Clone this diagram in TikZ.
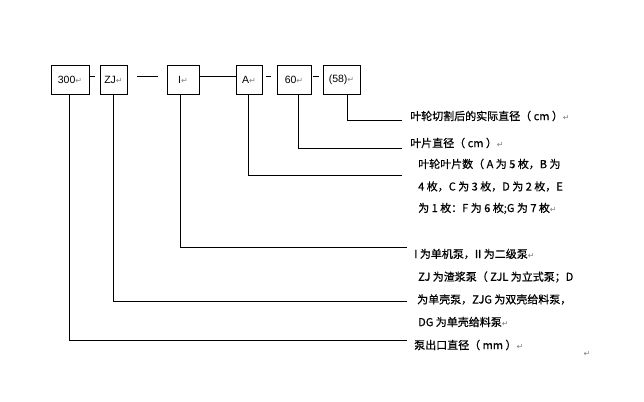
\documentclass[tikz,border=0pt]{standalone}
\usepackage{fontspec}
\setmainfont{Liberation Sans}
\newfontfamily\cjk[FakeBold=0.6]{Noto Sans CJK SC}
\newfontfamily\symf{DejaVu Sans}
\newcommand{\ret}{{\symf\color{gray}\fontsize{8}{9}\selectfont ↵}}
\begin{document}
\begin{tikzpicture}[x=1pt,y=-1pt,
  box/.style={draw, line width=0.8pt, minimum width=#1pt, minimum height=29pt, inner sep=0pt, font=\fontsize{10.5}{12}\selectfont},
  desc/.style={anchor=west, inner sep=0pt, font=\cjk\fontsize{11}{12}\selectfont},
  ln/.style={line width=0.8pt}]
\useasboundingbox[fill=white] (0,0) rectangle (644,401);
% boxes
\node[box=38] (b1) at (70,79.5) {300\ret};
\node[box=27] (b2) at (113.5,79.5) {ZJ\ret};
\node[box=32] (b3) at (183,79.5) {I\ret};
\node[box=26] (b4) at (249,79.5) {A\ret};
\node[box=34] (b5) at (294,79.5) {60\ret};
\node[box=37] (b6) at (341.5,79.5) {(58)\ret};
% dashes between boxes
\coordinate (d1a) at (89,76); \coordinate (d1b) at (95,76);
\coordinate (d2a) at (137,76); \coordinate (d2b) at (158,76);
\coordinate (d4a) at (266,76); \coordinate (d4b) at (271,76);
\coordinate (d5a) at (313,76); \coordinate (d5b) at (319,76);
\draw[ln] (d1a) -- (d1b);
\draw[ln] (d2a) -- (d2b);
\draw[ln] (b3.east |- d1a) -- (b4.west |- d1a);
\draw[ln] (d4a) -- (d4b);
\draw[ln] (d5a) -- (d5b);
% descriptions
\node[desc] (t6) at (410,116) {叶轮切割后的实际直径（ cm ）\ret};
\node[desc] (t5) at (410,143) {叶片直径（ cm ）\ret};
\node[desc] (t4a) at (418,164) {叶轮叶片数（ A 为 5 枚，B 为};
\node[desc] (t4b) at (418,186.5) {4 枚，C 为 3 枚，D 为 2 枚，E};
\node[desc] (t4c) at (418,208.5) {为 1 枚：F 为 6 枚;G 为 7 枚\ret};
\node[desc] (t3) at (414,254) {I 为单机泵，II 为二级泵\ret};
\node[desc] (t2a) at (418,277) {ZJ 为渣浆泵（ ZJL 为立式泵；D};
\node[desc] (t2b) at (417,299.5) {为单壳泵，ZJG 为双壳给料泵，};
\node[desc] (t2c) at (418,322) {DG 为单壳给料泵\ret};
\node[desc] (t1) at (414,345) {泵出口直径（ mm ）\ret};
\node[inner sep=0pt] (r) at (587,354) {\ret};
% leader lines
\coordinate (k6) at (347.3,120); \coordinate (e6) at (402,120);
\coordinate (k5) at (298,148); \coordinate (e5) at (402,148);
\coordinate (k4) at (248.3,175.5); \coordinate (e4) at (402,175.5);
\coordinate (k3) at (180.5,247); \coordinate (e3) at (407,247);
\coordinate (k2) at (113.7,301); \coordinate (e2) at (407,301);
\coordinate (k1) at (69.2,340); \coordinate (e1) at (407,340);
\draw[ln] (b6.south -| k6) -- (k6) -- (e6);
\draw[ln] (b5.south -| k5) -- (k5) -- (e5);
\draw[ln] (b4.south -| k4) -- (k4) -- (e4);
\draw[ln] (b3.south -| k3) -- (k3) -- (e3);
\draw[ln] (b2.south -| k2) -- (k2) -- (e2);
\draw[ln] (b1.south -| k1) -- (k1) -- (e1);
\end{tikzpicture}
\end{document}
